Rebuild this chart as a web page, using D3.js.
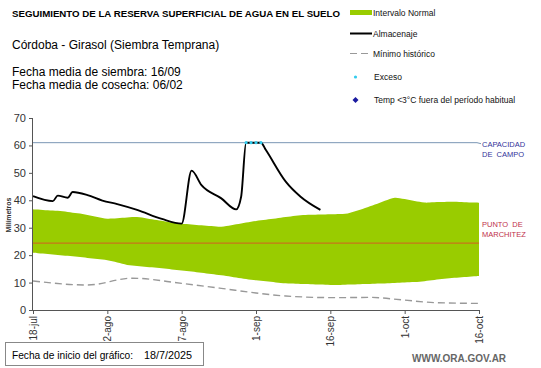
<!DOCTYPE html>
<html><head><meta charset="utf-8">
<script src="https://cdn.jsdelivr.net/npm/d3@7"></script>
<style>body{margin:0;background:#fff;} svg{display:block;font-family:"Liberation Sans",Arial,sans-serif;}</style>
</head><body>
<svg id="c" width="541" height="368"></svg>
<script>
// ---- data ----
const almDates = ["2025-07-18","2025-07-22","2025-07-23","2025-07-25","2025-07-26","2025-07-29","2025-08-01","2025-08-04","2025-08-08","2025-08-13","2025-08-17","2025-08-19","2025-08-21","2025-08-25","2025-08-28","2025-08-29","2025-08-30","2025-08-31","2025-09-01","2025-09-02","2025-09-03","2025-09-07","2025-09-10","2025-09-14"];
const almValues = [41.5,39.7,41.7,40.9,43.0,41.9,39.9,38.6,36.5,33.2,31.5,50.8,45.5,40.7,36.7,41.3,61.0,61.0,61.0,61.0,58.3,46.8,41.3,36.5];
const excesoDates = ["2025-08-30","2025-08-31","2025-09-01","2025-09-02"];
const excesoValues = [61,61,61,61];
const normUpperDates = ["2025-07-18","2025-07-23","2025-07-28","2025-08-02","2025-08-08","2025-08-16","2025-08-25","2025-08-31","2025-09-10","2025-09-19","2025-09-22","2025-09-29","2025-10-05","2025-10-10","2025-10-16"];
const normUpperValues = [36.7,36.2,35.0,33.2,34.0,31.6,30.3,32.2,34.6,35.0,36.5,41.1,39.1,39.5,39.1];
const normLowerDates = ["2025-07-18","2025-07-27","2025-08-02","2025-08-06","2025-08-13","2025-08-19","2025-08-26","2025-08-31","2025-09-07","2025-09-17","2025-09-27","2025-10-04","2025-10-10","2025-10-16"];
const normLowerValues = [20.9,19.4,18.2,16.4,15.2,14.0,12.4,11.0,9.7,9.1,9.7,10.3,11.6,12.4];
const minDates = ["2025-07-18","2025-07-29","2025-08-07","2025-08-17","2025-08-25","2025-09-01","2025-09-07","2025-09-17","2025-09-24","2025-10-01","2025-10-07","2025-10-16"];
const minValues = [10.6,9.1,11.6,9.7,7.9,6.2,5.1,4.5,4.6,3.6,2.7,2.4];
const capacidadCampo = 61;
const puntoMarchitez = 24.4;
const yTicks = [0,10,20,30,40,50,60,70];
const xTickDates = ["2025-07-18","2025-08-02","2025-08-17","2025-09-01","2025-09-16","2025-10-01","2025-10-16"];
const xTickLabels = ["18-jul","2-ago","17-ago","1-sep","16-sep","1-oct","16-oct"];

const P = d3.timeParse("%Y-%m-%d");
const svg = d3.select("#c");
const x = d3.scaleTime().domain([P("2025-07-18"), P("2025-10-16")]).range([33, 479]);
const y = d3.scaleLinear().domain([0,70]).range([310,118]);

function interpAt(dates, vals, t){
  const ts = dates.map(d=>P(d).getTime());
  for(let i=0;i<ts.length-1;i++){ if(t>=ts[i] && t<=ts[i+1]){ const f=(t-ts[i])/(ts[i+1]-ts[i]); return vals[i]+f*(vals[i+1]-vals[i]); } }
  return vals[vals.length-1];
}
const days = d3.timeDay.range(P("2025-07-18"), d3.timeDay.offset(P("2025-10-16"),1));
const band = days.map(d=>({d, lo: interpAt(normLowerDates, normLowerValues, d.getTime()), hi: interpAt(normUpperDates, normUpperValues, d.getTime())}));
svg.append("path")
  .attr("d", d3.area().curve(d3.curveBasis).x(b=>x(b.d)).y0(b=>y(b.lo)).y1(b=>y(b.hi))(band))
  .attr("fill","#99cc00");

// capacity line
svg.append("line").attr("x1",33).attr("x2",477).attr("y1",y(capacidadCampo)).attr("y2",y(capacidadCampo))
  .attr("stroke","#7a96b4").attr("stroke-width",1);
// wilting point line
svg.append("line").attr("x1",33).attr("x2",479).attr("y1",y(puntoMarchitez)).attr("y2",y(puntoMarchitez))
  .attr("stroke","#c8741a").attr("stroke-width",1.3);

// minimum historic
svg.append("path")
  .attr("d", d3.line().curve(d3.curveMonotoneX).x((d,i)=>x(P(d))).y((d,i)=>y(minValues[i]))(minDates))
  .attr("fill","none").attr("stroke","#999").attr("stroke-width",1.4).attr("stroke-dasharray","7,4");

// almacenaje
svg.append("path")
  .attr("d", d3.line().curve(d3.curveMonotoneX).x(d=>x(P(d))).y((d,i)=>y(almValues[i]))(almDates))
  .attr("fill","none").attr("stroke","#000").attr("stroke-width",1.9);
// exceso markers
svg.selectAll(".ex").data(excesoDates).enter().append("circle")
  .attr("cx",d=>x(P(d))).attr("cy",(d,i)=>y(excesoValues[i])).attr("r",1.6).attr("fill","#33ccee");

// axes
const yAxis = d3.axisLeft(y).tickValues(yTicks).tickSize(4).tickPadding(3).tickFormat(d3.format("d"));
const gy = svg.append("g").attr("transform","translate(33,0)").call(yAxis);
gy.select(".domain").attr("stroke","#555").attr("d","M-0.5,118V310.5");
gy.selectAll(".tick line").attr("stroke","#555");
gy.selectAll("text").attr("font-size",11).attr("fill","#333").attr("font-family","Liberation Sans, Arial");

const xAxis = d3.axisBottom(x).tickValues(xTickDates.map(P)).tickSize(4).tickFormat((d,i)=>xTickLabels[i]);
const gx = svg.append("g").attr("transform","translate(0,310)").call(xAxis);
gx.select(".domain").attr("stroke","#555").attr("d","M33,0.5H479.5");
gx.selectAll(".tick line").attr("stroke","#555");
gx.selectAll("text").attr("font-size",10).attr("fill","#333").attr("font-family","Liberation Sans, Arial")
  .attr("text-anchor","end").attr("transform","rotate(-90)").attr("x",-6).attr("y",0).attr("dy","0.35em");

svg.append("text").attr("transform","translate(11,215) rotate(-90)").attr("text-anchor","middle")
  .attr("font-size",7).attr("font-weight","bold").attr("fill","#333").text("Milímetros");

// titles
svg.append("text").attr("x",12).attr("y",17).attr("font-size",9.5).attr("font-weight","bold").attr("fill","#000")
  .attr("textLength",328).attr("lengthAdjust","spacingAndGlyphs").text("SEGUIMIENTO DE LA RESERVA  SUPERFICIAL DE AGUA EN EL SUELO");
svg.append("text").attr("x",12).attr("y",49).attr("font-size",12).attr("fill","#000").text("Córdoba - Girasol (Siembra Temprana)");
svg.append("text").attr("x",12).attr("y",76).attr("font-size",12).attr("fill","#000").text("Fecha media de siembra: 16/09");
svg.append("text").attr("x",12).attr("y",89).attr("font-size",12).attr("fill","#000").text("Fecha media de cosecha: 06/02");

// legend
const lg = svg.append("g").attr("font-size",8.5).attr("fill","#111");
lg.append("rect").attr("x",350).attr("y",10).attr("width",22).attr("height",5).attr("fill","#99cc00");
lg.append("text").attr("x",373).attr("y",16).text("Intervalo Normal");
lg.append("line").attr("x1",350).attr("x2",372).attr("y1",33.5).attr("y2",33.5).attr("stroke","#000").attr("stroke-width",2);
lg.append("text").attr("x",373).attr("y",37).text("Almacenaje");
lg.append("line").attr("x1",350).attr("x2",371).attr("y1",53.5).attr("y2",53.5).attr("stroke","#999").attr("stroke-width",1.2).attr("stroke-dasharray","7,4");
lg.append("text").attr("x",373).attr("y",57).text("Mínimo histórico");
lg.append("circle").attr("cx",355.5).attr("cy",77).attr("r",1.6).attr("fill","#33ccee");
lg.append("text").attr("x",374).attr("y",80).text("Exceso");
lg.append("path").attr("d","M355.5,97L358.5,100L355.5,103L352.5,100Z").attr("fill","#1a1aa0");
lg.append("text").attr("x",374).attr("y",103).text("Temp <3°C fuera del período habitual");

// right labels
svg.append("line").attr("x1",477).attr("x2",481).attr("y1",y(capacidadCampo)).attr("y2",y(capacidadCampo)+1).attr("stroke","#7a96b4");
const rl = svg.append("g").attr("font-size",7.5);
rl.append("text").attr("x",482).attr("y",147).attr("fill","#33339a").text("CAPACIDAD");
rl.append("text").attr("x",482).attr("y",157).attr("fill","#33339a").attr("xml:space","preserve").text("DE  CAMPO");
rl.append("text").attr("x",482).attr("y",227).attr("fill","#c0304a").attr("xml:space","preserve").text("PUNTO  DE");
rl.append("text").attr("x",482).attr("y",237).attr("fill","#c0304a").text("MARCHITEZ");

// footer
svg.append("rect").attr("x",5.5).attr("y",342.5).attr("width",198).attr("height",23).attr("fill","#fff").attr("stroke","#888");
svg.append("text").attr("x",12).attr("y",359).attr("font-size",10.5).attr("fill","#000")
  .attr("textLength",121).attr("lengthAdjust","spacingAndGlyphs").text("Fecha de inicio del gráfico:");
svg.append("text").attr("x",144).attr("y",359).attr("font-size",10.5).attr("fill","#000")
  .attr("textLength",48).attr("lengthAdjust","spacingAndGlyphs").text("18/7/2025");
svg.append("text").attr("x",412).attr("y",362).attr("font-size",10).attr("font-weight","bold").attr("fill","#666").text("WWW.ORA.GOV.AR");
</script>
</body></html>
